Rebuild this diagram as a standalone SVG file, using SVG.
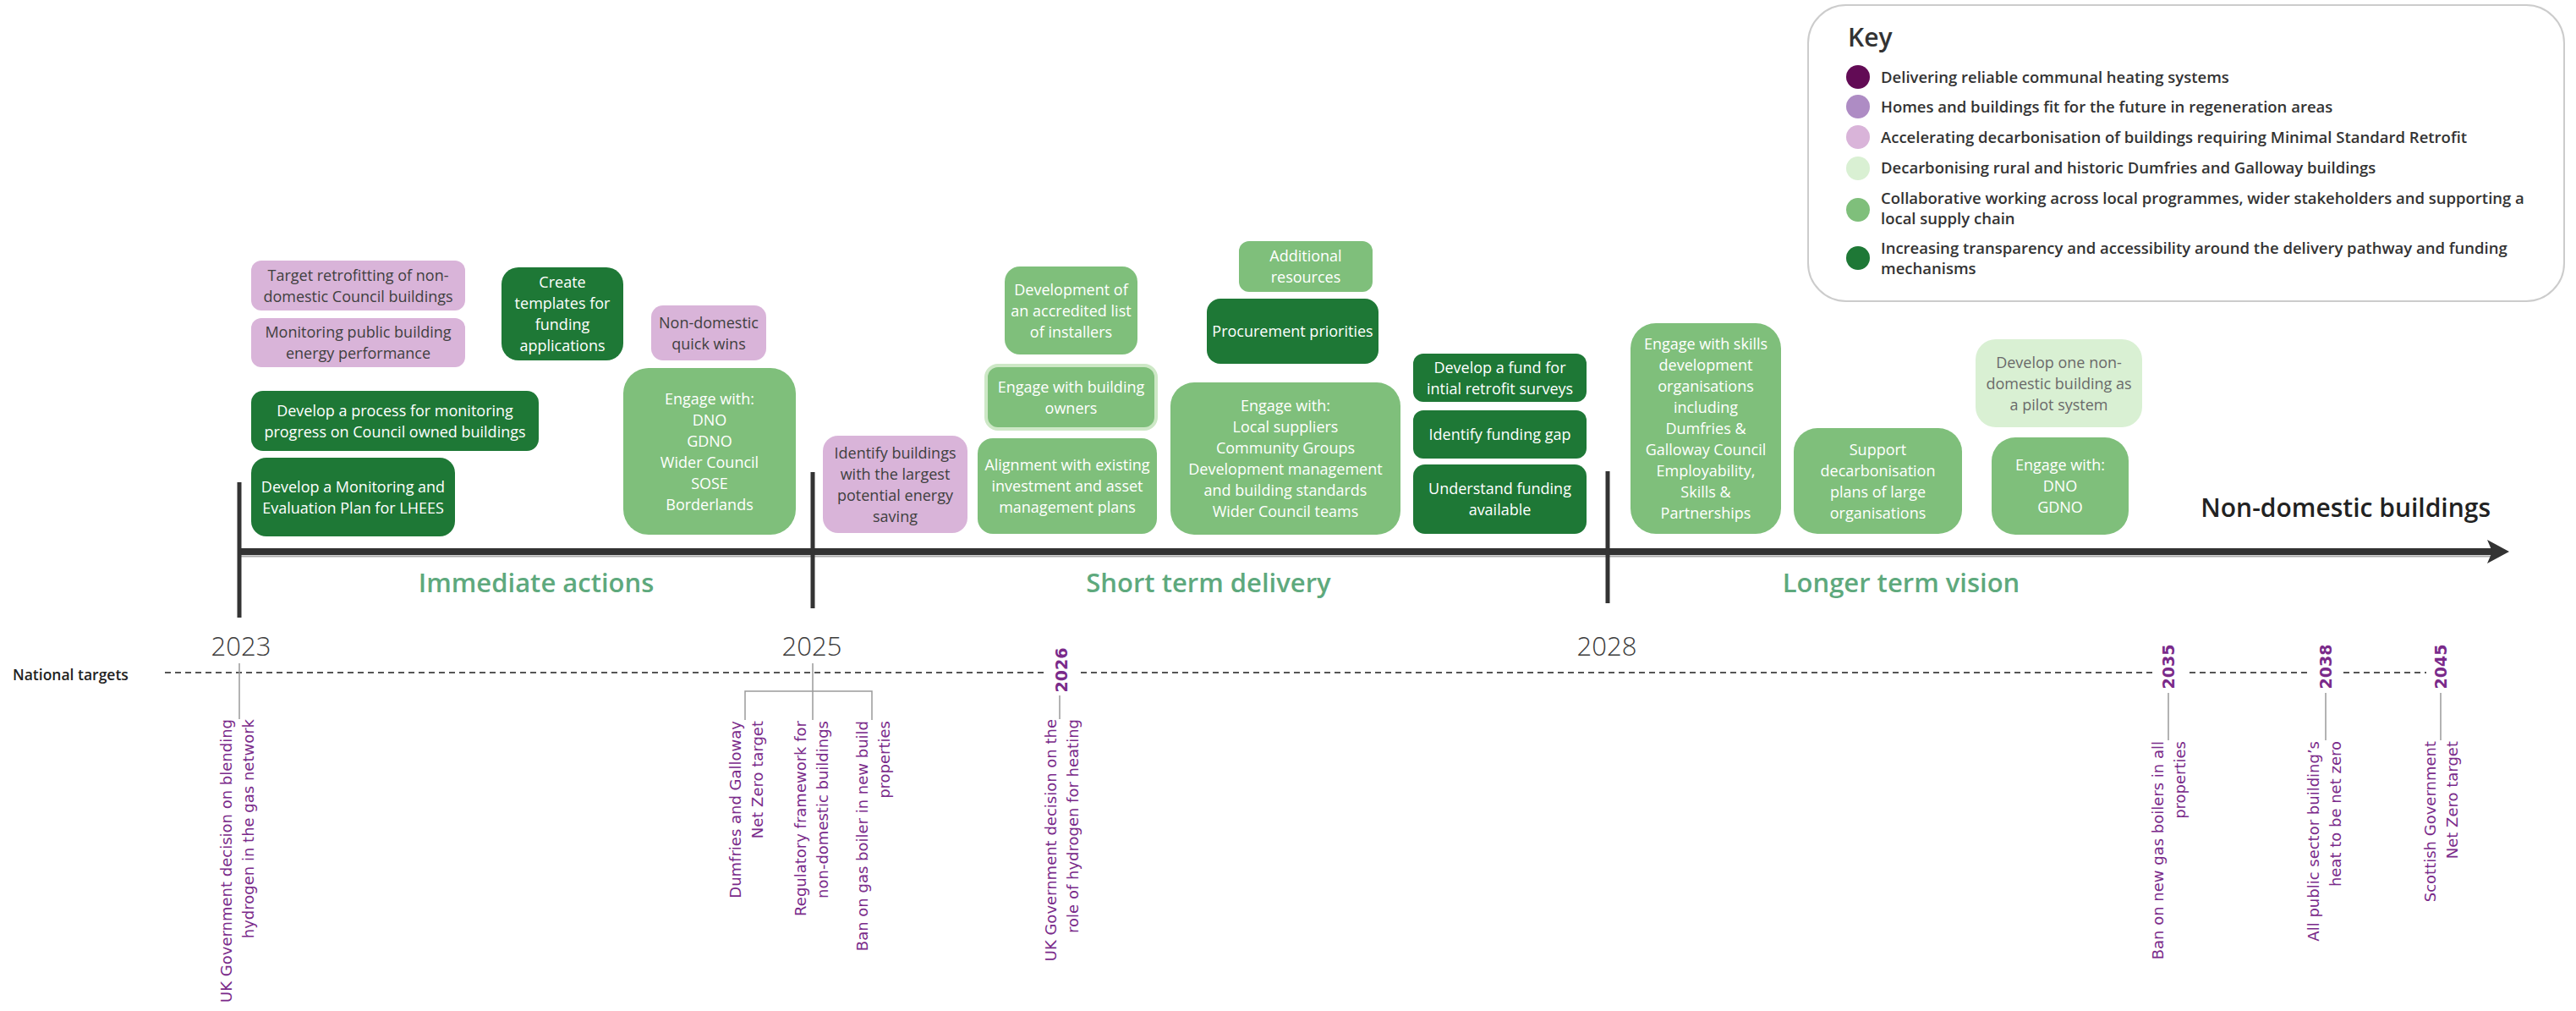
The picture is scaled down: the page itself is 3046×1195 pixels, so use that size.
<svg xmlns="http://www.w3.org/2000/svg" width="3046" height="1195" viewBox="0 0 3046 1195">
<style>
.nd text{font-family:"Open Sans","DejaVu Sans",sans-serif;font-size:18px;text-anchor:middle}
.dk rect{fill:#1e7836}
.dk text{fill:#ffffff}
.md rect{fill:#7fbf7b}
.md text{fill:#ffffff}
.pk rect{fill:#d9b4d9}
.pk text{fill:#404040}
.lg rect{fill:#d9f0d3}
.lg text{fill:#6a6a6a}
.phase{font-family:"Open Sans","DejaVu Sans",sans-serif;font-size:31px;font-weight:600;fill:#5ea97d;text-anchor:middle}
.year{font-family:"Open Sans","DejaVu Sans",sans-serif;font-size:31px;font-weight:300;fill:#3c3c3c;text-anchor:middle}
.tgt{font-family:"DejaVu Sans",Verdana,sans-serif;font-size:18px;fill:#7a2a8a;text-anchor:end}
.ty{font-family:"DejaVu Sans",Verdana,sans-serif;font-size:19px;font-weight:bold;fill:#7a2a8a;text-anchor:middle}
.thin{stroke:#9a9a9a;stroke-width:1.5;fill:none}
.tick{stroke:#333333;stroke-width:5}
.dash{stroke:#555555;stroke-width:2;stroke-dasharray:7 5}
.keyt{font-family:"Open Sans","DejaVu Sans",sans-serif;font-size:18.5px;font-weight:600;fill:#333333}
</style>

<!-- Key -->
<g id="key">
  <rect x="2138" y="6" width="894" height="350" rx="45" ry="45" fill="#ffffff" stroke="#cccccc" stroke-width="2"/>
  <text x="2185" y="55" font-family="Open Sans, DejaVu Sans, sans-serif" font-size="30" font-weight="600" fill="#333333">Key</text>
  <circle cx="2197" cy="91" r="14" fill="#620b55"/>
  <circle cx="2197" cy="126" r="14" fill="#ae8cc4"/>
  <circle cx="2197" cy="162" r="14" fill="#d9b4d9"/>
  <circle cx="2197" cy="199" r="14" fill="#d9f0d3"/>
  <circle cx="2197" cy="248" r="14" fill="#7fbf7b"/>
  <circle cx="2197" cy="305" r="14" fill="#1e7836"/>
  <text class="keyt" x="2224" y="98">Delivering reliable communal heating systems</text>
  <text class="keyt" x="2224" y="133">Homes and buildings fit for the future in regeneration areas</text>
  <text class="keyt" x="2224" y="169">Accelerating decarbonisation of buildings requiring Minimal Standard Retrofit</text>
  <text class="keyt" x="2224" y="205">Decarbonising rural and historic Dumfries and Galloway buildings</text>
  <text class="keyt" x="2224" y="241">Collaborative working across local programmes, wider stakeholders and supporting a</text>
  <text class="keyt" x="2224" y="265">local supply chain</text>
  <text class="keyt" x="2224" y="300">Increasing transparency and accessibility around the delivery pathway and funding</text>
  <text class="keyt" x="2224" y="324">mechanisms</text>
</g>

<!-- Axis -->
<g id="axis">
  <line x1="283" y1="657.5" x2="2945" y2="657.5" stroke="#aaaaaa" stroke-width="2"/>
  <line x1="281" y1="652" x2="2950" y2="652" stroke="#333333" stroke-width="8"/>
  <path d="M2941,638 L2967,652 L2941,666 L2947,652 Z" fill="#333333"/>
  <line class="tick" x1="283" y1="570" x2="283" y2="730"/>
  <line class="tick" x1="961" y1="558" x2="961" y2="719"/>
  <line class="tick" x1="1901" y1="557" x2="1901" y2="713"/>
  <text class="phase" x="634" y="700">Immediate actions</text>
  <text class="phase" x="1429" y="700">Short term delivery</text>
  <text class="phase" x="2248" y="700">Longer term vision</text>
  <text x="2945" y="611" text-anchor="end" font-family="Open Sans, DejaVu Sans, sans-serif" font-size="30" font-weight="600" fill="#222222">Non-domestic buildings</text>
  <text class="year" x="285" y="775">2023</text>
  <text class="year" x="960" y="775">2025</text>
  <text class="year" x="1900" y="775">2028</text>
  <text x="15" y="804" font-family="Open Sans, DejaVu Sans, sans-serif" font-size="17.5" font-weight="600" fill="#222222">National targets</text>
  <line class="dash" x1="195" y1="795" x2="1237" y2="795"/>
  <line class="dash" x1="1278" y1="795" x2="2546" y2="795"/>
  <line class="dash" x1="2589" y1="795" x2="2733" y2="795"/>
  <line class="dash" x1="2771" y1="795" x2="2869" y2="795"/>
</g>

<!-- Connectors -->
<g id="connectors">
  <line class="thin" x1="283" y1="784" x2="283" y2="850"/>
  <line class="thin" x1="961" y1="784" x2="961" y2="851"/>
  <polyline class="thin" points="881,851 881,817 1031,817 1031,851"/>
  <line class="thin" x1="1253" y1="822" x2="1253" y2="850"/>
  <line class="thin" x1="2564" y1="819" x2="2564" y2="875"/>
  <line class="thin" x1="2750" y1="819" x2="2750" y2="875"/>
  <line class="thin" x1="2886" y1="819" x2="2886" y2="875"/>
</g>

<!-- National targets -->
<g id="t2023">
  <text class="tgt" transform="translate(274,850) rotate(-90)"><tspan x="0" y="0">UK Government decision on blending</tspan><tspan x="0" y="26">hydrogen in the gas network</tspan></text>
</g>
<g id="t2025a">
  <text class="tgt" transform="translate(875.5,852) rotate(-90)"><tspan x="0" y="0">Dumfries and Galloway</tspan><tspan x="0" y="26">Net Zero target</tspan></text>
</g>
<g id="t2025b">
  <text class="tgt" transform="translate(952.5,852) rotate(-90)"><tspan x="0" y="0">Regulatory framework for</tspan><tspan x="0" y="26">non-domestic buildings</tspan></text>
</g>
<g id="t2025c">
  <text class="tgt" transform="translate(1026,852) rotate(-90)"><tspan x="0" y="0">Ban on gas boiler in new build</tspan><tspan x="0" y="26">properties</tspan></text>
</g>
<g id="t2026">
  <text class="ty" transform="translate(1262,792) rotate(-90)">2026</text>
  <text class="tgt" transform="translate(1249,850) rotate(-90)"><tspan x="0" y="0">UK Government decision on the</tspan><tspan x="0" y="26">role of hydrogen for heating</tspan></text>
</g>
<g id="t2035">
  <text class="ty" transform="translate(2571,788) rotate(-90)">2035</text>
  <text class="tgt" transform="translate(2558,876) rotate(-90)"><tspan x="0" y="0">Ban on new gas boilers in all</tspan><tspan x="0" y="26">properties</tspan></text>
</g>
<g id="t2038">
  <text class="ty" transform="translate(2757,788) rotate(-90)">2038</text>
  <text class="tgt" transform="translate(2742,876) rotate(-90)"><tspan x="0" y="0">All public sector building’s</tspan><tspan x="0" y="26">heat to be net zero</tspan></text>
</g>
<g id="t2045">
  <text class="ty" transform="translate(2893,788) rotate(-90)">2045</text>
  <text class="tgt" transform="translate(2879.5,876) rotate(-90)"><tspan x="0" y="0">Scottish Government</tspan><tspan x="0" y="26">Net Zero target</tspan></text>
</g>

<!-- Immediate actions -->
<g id="n1" class="nd pk">
  <rect x="297" y="308" width="253" height="59" rx="12"/>
  <text x="423.5" y="331.5">Target retrofitting of non-</text>
  <text x="423.5" y="356.5">domestic Council buildings</text>
</g>
<g id="n2" class="nd pk">
  <rect x="297" y="376" width="253" height="58" rx="12"/>
  <text x="423.5" y="399">Monitoring public building</text>
  <text x="423.5" y="424">energy performance</text>
</g>
<g id="n3" class="nd dk">
  <rect x="593" y="316" width="144" height="110" rx="20"/>
  <text x="665" y="340">Create</text>
  <text x="665" y="365">templates for</text>
  <text x="665" y="390">funding</text>
  <text x="665" y="415">applications</text>
</g>
<g id="n4" class="nd pk">
  <rect x="770" y="361" width="136" height="65" rx="14"/>
  <text x="838" y="387.5">Non-domestic</text>
  <text x="838" y="412.5">quick wins</text>
</g>
<g id="n5" class="nd dk">
  <rect x="297" y="462" width="340" height="71" rx="14"/>
  <text x="467" y="491.5">Develop a process for monitoring</text>
  <text x="467" y="516.5">progress on Council owned buildings</text>
</g>
<g id="n6" class="nd dk">
  <rect x="297" y="541" width="241" height="93" rx="18"/>
  <text x="417.5" y="581.5">Develop a Monitoring and</text>
  <text x="417.5" y="606.5">Evaluation Plan for LHEES</text>
</g>
<g id="n7" class="nd md">
  <rect x="737" y="435" width="204" height="197" rx="30"/>
  <text x="839" y="477.5">Engage with:</text>
  <text x="839" y="502.5">DNO</text>
  <text x="839" y="527.5">GDNO</text>
  <text x="839" y="552.5">Wider Council</text>
  <text x="839" y="577.5">SOSE</text>
  <text x="839" y="602.5">Borderlands</text>
</g>

<!-- Short term delivery -->
<g id="n8" class="nd pk">
  <rect x="973" y="515" width="171" height="115" rx="18"/>
  <text x="1058.5" y="541.5">Identify buildings</text>
  <text x="1058.5" y="566.5">with the largest</text>
  <text x="1058.5" y="591.5">potential energy</text>
  <text x="1058.5" y="616.5">saving</text>
</g>
<g id="n9" class="nd md">
  <rect x="1156" y="518" width="212" height="113" rx="18"/>
  <text x="1262" y="556">Alignment with existing</text>
  <text x="1262" y="581">investment and asset</text>
  <text x="1262" y="606">management plans</text>
</g>
<g id="n10" class="nd md">
  <rect x="1166" y="432" width="201" height="75" rx="14" stroke="#cde8c6" stroke-width="4"/>
  <text x="1266.5" y="463.5">Engage with building</text>
  <text x="1266.5" y="488.5">owners</text>
</g>
<g id="n11" class="nd md">
  <rect x="1188" y="315" width="157" height="104" rx="18"/>
  <text x="1266.5" y="348.5">Development of</text>
  <text x="1266.5" y="373.5">an accredited list</text>
  <text x="1266.5" y="398.5">of installers</text>
</g>
<g id="n12" class="nd md">
  <rect x="1465" y="285" width="158" height="60" rx="12"/>
  <text x="1544" y="309">Additional</text>
  <text x="1544" y="334">resources</text>
</g>
<g id="n13" class="nd dk">
  <rect x="1427" y="353" width="203" height="77" rx="16"/>
  <text x="1528.5" y="398">Procurement priorities</text>
</g>
<g id="n14" class="nd md">
  <rect x="1384" y="452" width="272" height="180" rx="28"/>
  <text x="1520" y="486">Engage with:</text>
  <text x="1520" y="511">Local suppliers</text>
  <text x="1520" y="536">Community Groups</text>
  <text x="1520" y="561">Development management</text>
  <text x="1520" y="586">and building standards</text>
  <text x="1520" y="611">Wider Council teams</text>
</g>
<g id="n15" class="nd dk">
  <rect x="1671" y="418" width="205" height="57" rx="12"/>
  <text x="1773.5" y="440.5">Develop a fund for</text>
  <text x="1773.5" y="465.5">intial retrofit surveys</text>
</g>
<g id="n16" class="nd dk">
  <rect x="1671" y="485" width="205" height="57" rx="12"/>
  <text x="1773.5" y="520">Identify funding gap</text>
</g>
<g id="n17" class="nd dk">
  <rect x="1671" y="549" width="205" height="82" rx="14"/>
  <text x="1773.5" y="584">Understand funding</text>
  <text x="1773.5" y="609">available</text>
</g>

<!-- Longer term vision -->
<g id="n18" class="nd md">
  <rect x="1928" y="382" width="178" height="249" rx="30"/>
  <text x="2017" y="413">Engage with skills</text>
  <text x="2017" y="438">development</text>
  <text x="2017" y="463">organisations</text>
  <text x="2017" y="488">including</text>
  <text x="2017" y="513">Dumfries &amp;</text>
  <text x="2017" y="538">Galloway Council</text>
  <text x="2017" y="563">Employability,</text>
  <text x="2017" y="588">Skills &amp;</text>
  <text x="2017" y="613">Partnerships</text>
</g>
<g id="n19" class="nd md">
  <rect x="2121" y="506" width="199" height="125" rx="28"/>
  <text x="2220.5" y="537.5">Support</text>
  <text x="2220.5" y="562.5">decarbonisation</text>
  <text x="2220.5" y="587.5">plans of large</text>
  <text x="2220.5" y="612.5">organisations</text>
</g>
<g id="n20" class="nd lg">
  <rect x="2336" y="401" width="197" height="104" rx="24"/>
  <text x="2434.5" y="434.5">Develop one non-</text>
  <text x="2434.5" y="459.5">domestic building as</text>
  <text x="2434.5" y="484.5">a pilot system</text>
</g>
<g id="n21" class="nd md">
  <rect x="2355" y="517" width="162" height="115" rx="28"/>
  <text x="2436" y="556">Engage with:</text>
  <text x="2436" y="581">DNO</text>
  <text x="2436" y="606">GDNO</text>
</g>
</svg>
